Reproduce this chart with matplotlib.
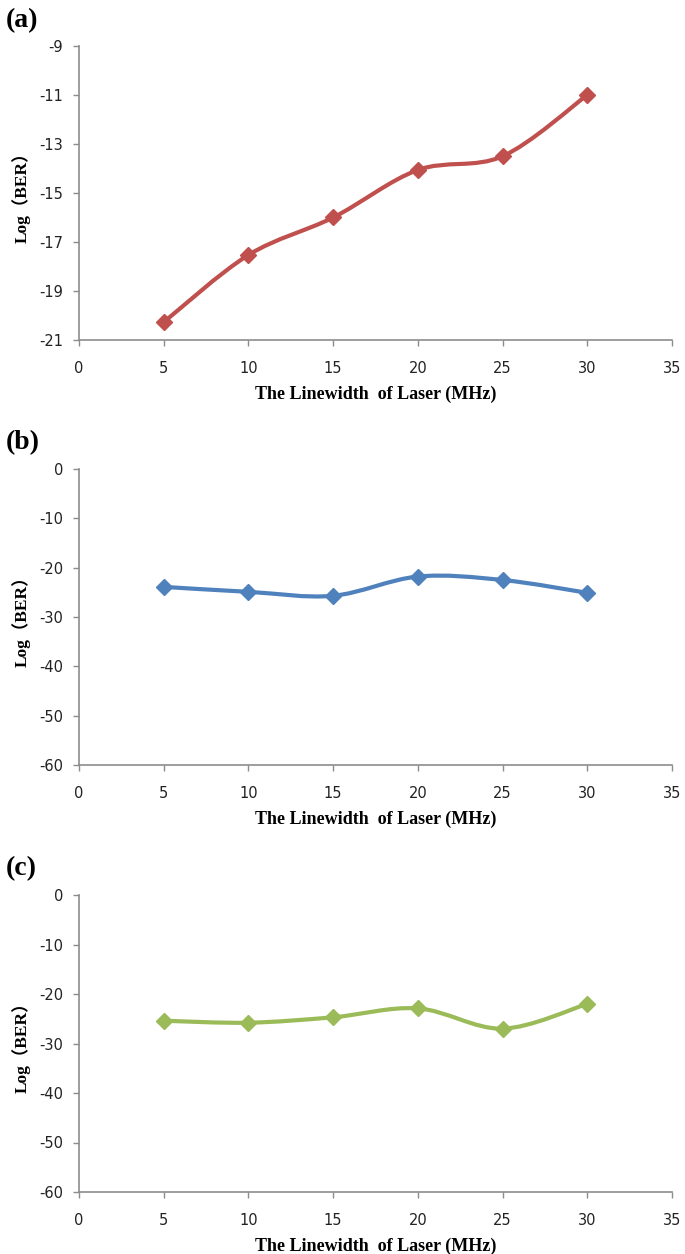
import numpy as np
import matplotlib
matplotlib.use("Agg")
import matplotlib.pyplot as plt
from matplotlib.path import Path
from matplotlib.patches import PathPatch

plt.rcParams['axes.unicode_minus'] = False
plt.rcParams['font.family'] = ['DejaVu Sans']

linewidth_mhz = [5, 10, 15, 20, 25, 30]
ber_a = [-20.27, -17.53, -16.0, -14.06, -13.5, -11.0]
ber_b = [-23.9, -24.9, -25.7, -21.8, -22.5, -25.1]
ber_c = [-25.4, -25.8, -24.7, -22.9, -27.0, -22.0]

panels = [
    ("(a)", ber_a, "#C0504D", (-21, -9), [-21, -19, -17, -15, -13, -11, -9]),
    ("(b)", ber_b, "#4F81BD", (-60, 0), [-60, -50, -40, -30, -20, -10, 0]),
    ("(c)", ber_c, "#9BBB59", (-60, 0), [-60, -50, -40, -30, -20, -10, 0]),
]
x_ticks = [0, 5, 10, 15, 20, 25, 30, 35]

W, H = 685, 1254
fig = plt.figure(figsize=(W / 100, H / 100), dpi=100)

# pixel boxes: (left, right, top, bottom)
boxes = [(79, 672, 46, 340), (79, 672, 469, 765), (79, 672, 895, 1192)]
label_y = [21, 443, 869]

serif = ['Liberation Serif', 'Noto Sans CJK SC']
grey = '#8C8C8C'


def smooth_path(xs, ys, t=1/6):
    xs = np.asarray(xs, float)
    ys = np.asarray(ys, float)
    n = len(xs)
    verts = [(xs[0], ys[0])]
    codes = [Path.MOVETO]
    for i in range(n - 1):
        p0 = (xs[max(i - 1, 0)], ys[max(i - 1, 0)])
        p1 = (xs[i], ys[i])
        p2 = (xs[i + 1], ys[i + 1])
        p3 = (xs[min(i + 2, n - 1)], ys[min(i + 2, n - 1)])
        c1 = (p1[0] + (p2[0] - p0[0]) * t, p1[1] + (p2[1] - p0[1]) * t)
        c2 = (p2[0] - (p3[0] - p1[0]) * t, p2[1] - (p3[1] - p1[1]) * t)
        verts += [c1, c2, p2]
        codes += [Path.CURVE4] * 3
    return Path(verts, codes)


for (lab, ys, col, ylim, yt), (l, r, t, b), ly in zip(panels, boxes, label_y):
    ax = fig.add_axes([l / W, 1 - b / H, (r - l) / W, (b - t) / H])
    ax.set_xlim(0, 35)
    ax.set_ylim(*ylim)
    ax.set_xticks(x_ticks)
    ax.set_yticks(yt)
    for s in ['top', 'right']:
        ax.spines[s].set_visible(False)
    for s in ['left', 'bottom']:
        ax.spines[s].set_color(grey)
        ax.spines[s].set_linewidth(1.2)
    ax.tick_params(axis='both', direction='out', length=4, width=1.0,
                   color=grey, labelsize=10.5, labelcolor='#222222')
    ax.tick_params(axis='x', pad=11)
    ax.tick_params(axis='y', pad=7.5)
    ax.patch.set_alpha(0)
    patch = PathPatch(smooth_path(linewidth_mhz, ys), facecolor='none',
                      edgecolor=col, lw=3, capstyle='round', joinstyle='round')
    ax.add_patch(patch)
    ax.plot(linewidth_mhz, ys, linestyle='none', marker='D', markersize=8,
            color=col, markeredgecolor=col)
    ax.set_xlabel("The Linewidth  of Laser (MHz)", family=serif,
                  fontweight='bold', fontsize=13, labelpad=7)
    ax.set_ylabel("Log（BER）", family=serif, fontweight='bold',
                  fontsize=12.5, labelpad=6)
    fig.text(6 / W, 1 - ly / H, lab, family=serif, fontweight='bold',
             fontsize=20, va='center', ha='left')

fig.savefig("out.png", dpi=100)
